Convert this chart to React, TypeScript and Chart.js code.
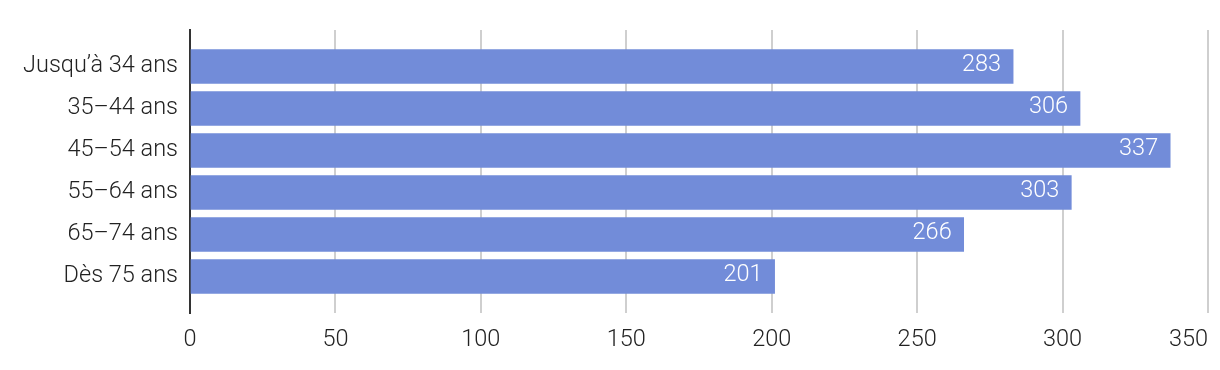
import React, { useEffect, useRef } from 'react';
import { Chart, registerables } from 'chart.js';

Chart.register(...registerables);

const categories = ['Jusqu’à 34 ans', '35–44 ans', '45–54 ans', '55–64 ans', '65–74 ans', 'Dès 75 ans'];
const values = [283, 306, 337, 303, 266, 201];
const xTickValues = [0, 50, 100, 150, 200, 250, 300, 350];

const BAR_COLOR = '#728cd9';
const TEXT_COLOR = '#222222';
const FONT_SIZE = 23.5;
const FONT = `300 ${FONT_SIZE}px Roboto`;

export default function App() {
  const ref = useRef<HTMLCanvasElement | null>(null);

  useEffect(() => {
    if (!ref.current) return;
    const last = xTickValues.length - 1;

    const valueLabels = {
      id: 'valueLabels',
      afterDatasetsDraw(chart: any) {
        const ctx = chart.ctx;
        const meta = chart.getDatasetMeta(0);
        ctx.save();
        ctx.font = FONT;
        ctx.fillStyle = '#ffffff';
        ctx.textAlign = 'right';
        ctx.textBaseline = 'middle';
        meta.data.forEach((bar: any, i: number) => {
          ctx.fillText(String(values[i]), bar.x - 12, bar.y - 1.5);
        });
        ctx.restore();
      },
    };

    const xLabels = {
      id: 'xLabels',
      afterDraw(chart: any) {
        const ctx = chart.ctx;
        const xs = chart.scales.x;
        ctx.save();
        ctx.font = FONT;
        ctx.fillStyle = TEXT_COLOR;
        ctx.textBaseline = 'middle';
        xs.ticks.forEach((t: any, i: number) => {
          const px = xs.getPixelForValue(t.value);
          ctx.textAlign = i === last ? 'right' : 'center';
          ctx.fillText(String(t.value), px, chart.chartArea.bottom + 27);
        });
        ctx.restore();
      },
    };

    const yPad = 0.869;

    const chart = new Chart(ref.current, {
      type: 'bar',
      data: {
        datasets: [
          {
            data: values.map((v, i) => ({ x: v, y: i })),
            backgroundColor: BAR_COLOR,
            borderWidth: 0,
            barThickness: 34,
          },
        ],
      },
      options: {
        indexAxis: 'y',
        responsive: false,
        animation: false,
        layout: { padding: { top: 30, right: 12, left: 0, bottom: 0 } },
        plugins: { legend: { display: false }, tooltip: { enabled: false } },
        scales: {
          x: {
            type: 'linear',
            min: 0,
            max: xTickValues[last],
            afterBuildTicks: (s: any) => {
              s.ticks = xTickValues.map((v) => ({ value: v }));
            },
            afterFit: (s: any) => {
              s.height = 57;
              s.paddingLeft = 0;
              s.paddingRight = 0;
            },
            grid: { color: '#cfcfcf', lineWidth: 2, drawTicks: false },
            border: { display: false },
            ticks: { color: 'rgba(0,0,0,0)', font: { family: 'Roboto', size: FONT_SIZE, weight: '300' } },
          },
          y: {
            type: 'linear',
            reverse: true,
            offset: false,
            bounds: 'data',
            min: -yPad,
            max: categories.length - 1 + yPad,
            afterBuildTicks: (s: any) => {
              s.ticks = categories.map((_, i) => ({ value: i }));
            },
            afterFit: (s: any) => {
              s.width = 190;
            },
            grid: { display: false, drawTicks: false, offset: false },
            border: { display: true, color: '#333333', width: 2 },
            ticks: {
              color: TEXT_COLOR,
              padding: 12,
              font: { family: 'Roboto', size: FONT_SIZE, weight: '300' },
              callback: (v: any) => categories[v as number] ?? '',
            },
          },
        },
      } as any,
      plugins: [valueLabels, xLabels],
    });
    return () => chart.destroy();
  }, []);

  return (
    <div style={{ position: 'absolute', left: 0, top: 0, width: 1220, height: 370, background: '#fff' }}>
      <canvas ref={ref} width={1220} height={370} style={{ display: 'block' }} />
    </div>
  );
}
